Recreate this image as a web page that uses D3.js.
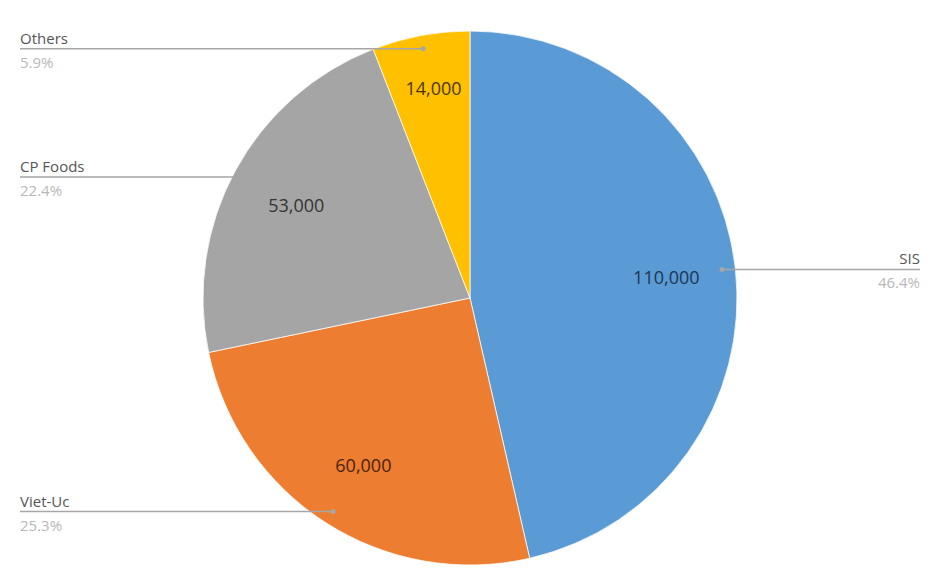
<!DOCTYPE html>
<html>
<head>
<meta charset="utf-8">
<script src="https://cdn.jsdelivr.net/npm/d3@7"></script>
<style>
  body { margin: 0; background: #fff; }
  svg { display: block; font-family: "Open Sans", "Noto Sans", sans-serif; }
</style>
</head>
<body>
<svg id="chart" width="942" height="583"></svg>
<script>
// Data
const companies = ['SIS', 'Viet-Uc', 'CP Foods', 'Others'];
const volumes = [110000, 60000, 53000, 14000];
const sliceColors = ['#5b9bd5', '#ed7d31', '#a5a5a5', '#ffc000'];
const valueColors = ['#1c3553', '#4a2208', '#333333', '#4a3800'];

const width = 942, height = 583;
const cx = 470, cy = 298, radius = 267;

const svg = d3.select('#chart');
const g = svg.append('g').attr('transform', `translate(${cx},${cy})`);

const data = companies.map((name, i) => ({ name, value: volumes[i], i }));
const total = d3.sum(volumes);

const pie = d3.pie().value(d => d.value).sort(null);
const arcs = pie(data);

const arc = d3.arc().innerRadius(0).outerRadius(radius);
const labelArc = d3.arc().innerRadius(radius * 0.74).outerRadius(radius * 0.74);
const dotArc = d3.arc().innerRadius(radius * 0.95).outerRadius(radius * 0.95);

// Slices
g.selectAll('path.slice')
  .data(arcs)
  .enter()
  .append('path')
  .attr('class', 'slice')
  .attr('d', arc)
  .attr('fill', d => sliceColors[d.data.i])
  .attr('stroke', '#fff')
  .attr('stroke-width', 0.75);

// Leader lines + outside labels
const pctFmt = d3.format('.1%');
const leftX = 20 - cx, rightX = 920 - cx;

arcs.forEach(d => {
  const [px, py] = dotArc.centroid(d);
  const mid = (d.startAngle + d.endAngle) / 2;
  const onRight = mid < Math.PI;
  const endX = onRight ? rightX : leftX;

  g.append('line')
    .attr('x1', px).attr('y1', py)
    .attr('x2', endX).attr('y2', py)
    .attr('stroke', '#a6a6a6')
    .attr('stroke-width', 1.5);
  g.append('circle')
    .attr('cx', px).attr('cy', py)
    .attr('r', 2.5)
    .attr('fill', '#a6a6a6');

  const anchor = onRight ? 'end' : 'start';
  g.append('text')
    .attr('x', endX).attr('y', py - 5)
    .attr('text-anchor', anchor)
    .attr('font-size', 15)
    .attr('fill', '#555555')
    .text(d.data.name);
  g.append('text')
    .attr('x', endX).attr('y', py + 19)
    .attr('text-anchor', anchor)
    .attr('font-size', 15)
    .attr('fill', '#b8b8b8')
    .text(pctFmt(d.data.value / total));
});

// Value labels inside slices
const numFmt = d3.format(',');
arcs.forEach(d => {
  let [lx, ly] = labelArc.centroid(d);
  const t = g.append('text')
    .attr('text-anchor', 'middle')
    .attr('dy', '0.45em')
    .attr('font-size', 18)
    .attr('fill', valueColors[d.data.i])
    .text(numFmt(d.data.value));
  // small slice near the top: keep label inside its slice
  if (d.endAngle - d.startAngle < 0.5) {
    const bw = t.node().getBBox().width;
    ly = -radius * 0.79;
    lx = Math.min(lx, -bw / 2 - 8);
  }
  t.attr('x', lx).attr('y', ly);
});
</script>
</body>
</html>
